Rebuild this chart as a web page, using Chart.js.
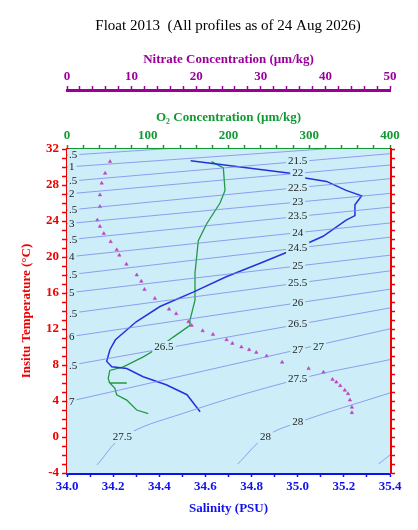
<!DOCTYPE html>
<html>
<head>
<meta charset="utf-8">
<script src="https://cdn.jsdelivr.net/npm/chart.js@4"></script>
<style>
  body { margin: 0; background: #fff; }
  canvas { display: block; }
</style>
</head>
<body>
<canvas id="tsChart" width="418" height="530"></canvas>
<script>
// salinity profile (PSU, degC)
const salS = [34.536, 34.967, 34.98, 35.125, 35.21, 35.277, 35.248, 35.248, 35.21, 35.11, 34.98, 34.837, 34.69, 34.547, 34.403, 34.30, 34.21, 34.186, 34.172, 34.194, 34.259, 34.33, 34.43, 34.52, 34.577];
const salT = [30.7, 29.3, 29.0, 28.4, 27.4, 26.8, 25.8, 24.6, 24.1, 22.3, 20.8, 19.3, 17.8, 16.1, 14.5, 12.8, 10.8, 9.7, 8.4, 7.8, 7.6, 6.7, 5.8, 4.7, 2.8];
// oxygen profile (umol/kg, degC)
const o2Val = [179, 193.6, 195.7, 189.5, 173, 162.6, 158.5, 158.5, 152.3, 152.3, 131.6, 115, 94.5, 69.7, 53, 51, 53, 74, 53, 59.4, 61.5, 74, 86.3, 100.6];
const o2T = [30.6, 29.9, 27.4, 26.0, 23.7, 21.8, 18.2, 15.2, 13.0, 12.4, 11.1, 10.0, 8.9, 7.8, 7.4, 6.5, 6.0, 6.0, 6.0, 5.4, 4.7, 4.1, 3.0, 2.6];
// nitrate samples (umol/kg, degC)
const no3Val = [6.66, 5.9, 5.37, 5.1, 5.1, 4.7, 5.1, 5.7, 6.76, 7.7, 8.1, 9.2, 10.8, 11.5, 12.0, 13.6, 15.8, 16.9, 18.8, 19.3, 21.0, 22.6, 24.7, 25.6, 27.0, 28.2, 29.3, 30.9, 33.3, 37.4, 39.7, 41.1, 41.7, 42.3, 43.0, 43.5, 43.8, 44.1, 44.1];
const no3T = [30.6, 29.3, 28.2, 26.9, 25.6, 24.1, 23.4, 22.6, 21.7, 20.8, 20.2, 19.2, 18.0, 17.3, 16.4, 15.4, 14.2, 13.7, 12.8, 12.4, 11.8, 11.4, 10.8, 10.4, 10.0, 9.7, 9.4, 9.0, 8.3, 7.6, 7.2, 6.4, 6.1, 5.7, 5.2, 4.8, 4.1, 3.3, 2.7];
// isopycnals: sigma, T at S=34.0, T at S=35.0
const sigmaVals = [20.5, 21, 21.5, 22, 22.5, 23, 23.5, 24, 24.5, 25, 25.5, 26, 26.5, 27];
const sigmaTLeft = [31.3, 30.0, 28.4, 27.0, 25.2, 23.7, 21.9, 20.0, 18.0, 16.0, 13.7, 11.1, 7.9, 3.9];
const sigmaTRight = [33.0, 31.8, 30.6, 29.3, 27.7, 26.1, 24.5, 22.7, 21.0, 19.0, 17.1, 14.9, 12.5, 9.7];
// curved deep isopycnals [S,T] points
const sigma275 = [[34.13, -3.1], [34.243, 0], [34.5, 2.6], [35.0, 6.4], [35.4, 8.6]];
const sigma28 = [[34.74, -3.0], [34.86, 0], [35.0, 1.6], [35.4, 4.9]];
const sigma285 = [[35.35, -3.0], [35.4, -2.0]];
// labels drawn on isopycnals [S, T, text]
const sigmaLabels = [[35.0, 30.6, '21.5'], [35.0, 29.3, '22'], [35.0, 27.7, '22.5'], [35.0, 26.1, '23'], [35.0, 24.5, '23.5'], [35.0, 22.7, '24'], [35.0, 21.0, '24.5'], [35.0, 19.0, '25'], [35.0, 17.1, '25.5'], [35.0, 14.9, '26'], [35.0, 12.5, '26.5'], [35.0, 9.7, '27'], [35.09, 10.0, '27'], [34.42, 10.0, '26.5'], [35.0, 6.4, '27.5'], [34.24, 0, '27.5'], [34.86, 0, '28'], [35.0, 1.6, '28']];

const serif = '"Liberation Serif", "DejaVu Serif", serif';
const red = '#ee0000', blue = '#1111ee', green = '#119933', purple = '#990099';

const datasets = [];
sigmaVals.forEach((s, i) => {
    const slope = sigmaTRight[i] - sigmaTLeft[i];
    datasets.push({
        data: [{x: 34.0, y: sigmaTLeft[i]}, {x: 35.0, y: sigmaTRight[i]}, {x: 35.4, y: sigmaTRight[i] + 0.4 * slope}],
        xAxisID: 'x', showLine: true, pointRadius: 0, borderWidth: 1, borderColor: 'rgba(120,130,235,0.75)'
    });
});
[sigma275, sigma28, sigma285].forEach(c => {
    datasets.push({
        data: c.map(p => ({x: p[0], y: p[1]})),
        xAxisID: 'x', showLine: true, pointRadius: 0, borderWidth: 1, tension: 0.4, borderColor: 'rgba(120,130,235,0.75)'
    });
});
datasets.push({
    data: salS.map((s, i) => ({x: s, y: salT[i]})),
    xAxisID: 'x', showLine: true, pointRadius: 0, borderWidth: 1.5, borderColor: '#2233dd'
});
datasets.push({
    data: o2Val.map((v, i) => ({x: v, y: o2T[i]})),
    xAxisID: 'xO2', showLine: true, pointRadius: 0, borderWidth: 1.3, borderColor: '#229944'
});
datasets.push({
    data: no3Val.map((v, i) => ({x: v, y: no3T[i]})),
    xAxisID: 'xN', showLine: false, pointStyle: 'triangle', pointRadius: 2, borderWidth: 0.5,
    backgroundColor: '#bb44bb', borderColor: '#bb44bb'
});

const tsPlugin = {
    id: 'tsPlugin',
    beforeDatasetsDraw(chart) {
        const a = chart.chartArea, ctx = chart.ctx;
        ctx.save();
        ctx.fillStyle = '#cdeef9';
        ctx.fillRect(a.left, a.top, a.right - a.left, a.bottom - a.top);
        ctx.restore();
    },
    afterDatasetsDraw(chart) {
        const a = chart.chartArea, ctx = chart.ctx;
        const xs = chart.scales.x, ys = chart.scales.y;
        ctx.save();
        ctx.font = '11px ' + serif;
        ctx.textBaseline = 'middle';
        ctx.textAlign = 'center';
        sigmaLabels.forEach(l => {
            const px = xs.getPixelForValue(l[0]), py = ys.getPixelForValue(l[1]);
            const w = ctx.measureText(l[2]).width;
            ctx.fillStyle = '#cdeef9';
            ctx.fillRect(px - w / 2 - 2, py - 6, w + 4, 12);
            ctx.fillStyle = '#222';
            ctx.fillText(l[2], px, py);
        });
        // clipped labels at left edge
        ctx.textAlign = 'left';
        sigmaVals.forEach((s, i) => {
            const txt = s % 1 ? '.5' : String(s % 10);
            const py = ys.getPixelForValue(sigmaTLeft[i]);
            ctx.fillStyle = '#cdeef9';
            ctx.fillRect(a.left + 1, py - 6, ctx.measureText(txt).width + 3, 12);
            ctx.fillStyle = '#222';
            ctx.fillText(txt, a.left + 2, py);
        });
        ctx.restore();
        // title
        ctx.save();
        ctx.font = '15px ' + serif;
        ctx.fillStyle = '#000';
        ctx.textAlign = 'center';
        ctx.textBaseline = 'middle';
        ctx.fillText('Float 2013  (All profiles as of 24 Aug 2026)', 228, 26);
        ctx.restore();
    }
};

function axisFont(size) { return {family: serif, size: size, weight: 'bold'}; }

new Chart(document.getElementById('tsChart'), {
    type: 'scatter',
    data: {datasets: datasets},
    plugins: [tsPlugin],
    options: {
        responsive: false,
        animation: false,
        layout: {padding: {top: 40, left: 0, right: 0, bottom: 0}},
        plugins: {legend: {display: false}, tooltip: {enabled: false}},
        scales: {
            x: {
                type: 'linear', position: 'bottom', min: 34.0, max: 35.4,
                afterFit: s => { s.height = 57; },
                afterBuildTicks: s => { s.ticks = []; for (let v = 34.0; v <= 35.401; v += 0.1) s.ticks.push({value: +v.toFixed(1)}); },
                ticks: {autoSkip: false, color: blue, font: axisFont(13), padding: 2, maxRotation: 0,
                    callback: v => (Math.round(v * 10) % 2 === 0) ? v.toFixed(1) : ''},
                grid: {drawOnChartArea: false, color: blue, tickLength: 4, tickWidth: 1.5},
                border: {color: blue, width: 3},
                title: {display: true, text: 'Salinity (PSU)', color: blue, font: axisFont(13), padding: {top: 14, bottom: 14}}
            },
            xO2: {
                type: 'linear', position: 'top', min: 0, max: 400,
                afterFit: s => { s.height = 59; },
                ticks: {autoSkip: false, stepSize: 20, color: green, font: axisFont(13), padding: 2, maxRotation: 0,
                    callback: v => v % 100 === 0 ? v : ''},
                grid: {drawOnChartArea: false, color: green, tickLength: 4, tickWidth: 1.5},
                border: {color: green, width: 3},
                title: {display: true, text: 'O₂ Concentration (µm/kg)', color: green, font: axisFont(13), padding: {top: 20, bottom: 20}}
            },
            xN: {
                type: 'linear', position: 'top', min: 0, max: 50,
                afterFit: s => { s.height = 50; },
                ticks: {autoSkip: false, stepSize: 2, color: purple, font: axisFont(13), padding: 2, maxRotation: 0,
                    callback: v => v % 10 === 0 ? v : ''},
                grid: {drawOnChartArea: false, color: purple, tickLength: 4, tickWidth: 1.5},
                border: {color: purple, width: 3},
                title: {display: true, text: 'Nitrate Concentration (µm/kg)', color: purple, font: axisFont(13), padding: {top: 12, bottom: 12}}
            },
            y: {
                type: 'linear', position: 'left', min: -4, max: 32,
                afterFit: s => { s.width = 67; },
                ticks: {autoSkip: false, stepSize: 1, color: red, font: axisFont(13), padding: 3,
                    callback: v => v % 4 === 0 ? v : ''},
                grid: {drawOnChartArea: false, color: red, tickLength: 5, tickWidth: 1.5},
                border: {color: red, width: 3},
                title: {display: true, text: 'Insitu Temperature (°C)', color: red, font: axisFont(13), padding: {top: 19, bottom: 19}}
            },
            y2: {
                type: 'linear', position: 'right', min: -4, max: 32,
                afterFit: s => { s.width = 28; },
                ticks: {stepSize: 1, display: false},
                grid: {drawOnChartArea: false, color: red, tickLength: 5, tickWidth: 1.5},
                border: {color: red, width: 3}
            }
        }
    }
});
</script>
</body>
</html>
